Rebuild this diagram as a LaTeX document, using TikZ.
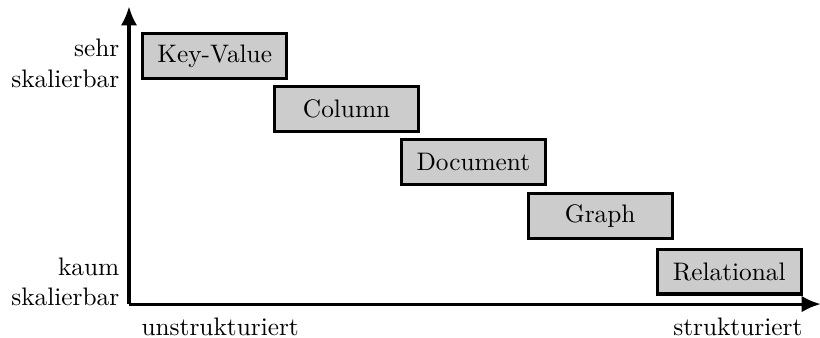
\documentclass[tikz,border=0pt]{standalone}
\usetikzlibrary{arrows.meta}

\tikzset{
	dbbox/.style={rectangle,draw,very thick,fill=black!20,minimum width=2cm,minimum height=0.62cm,inner sep=2pt},
	axis/.style={very thick,-{Latex[length=7.5pt,width=6.5pt]}}
}

\newcommand{\dbtype}[3]
{
	\node[dbbox] at (#2) (#1) {#3}
}

\begin{document}
\begin{tikzpicture}
	\useasboundingbox (-1.79,-0.46) rectangle (9.59,4.22);
	
	%%% Achsen
	\coordinate (O) at (0,0);
	\coordinate (ytop) at (0,4.13);
	\coordinate (xend) at (9.6,0);
	\draw[axis] (O) -- (ytop);
	\draw[axis] (O) -- (xend);
	
	%%% Datenbanktypen
	\dbtype{keyvalue}{1.19,3.44}{Key-Value};
	\dbtype{column}{3.02,2.71}{Column};
	\dbtype{document}{4.78,1.97}{Document};
	\dbtype{graph}{6.54,1.22}{Graph};
	\dbtype{relational}{8.33,0.45}{Relational};
	
	%%% Beschriftung
	\node[align=right,anchor=east] (sehr) at (-0.01,3.34) {sehr\\skalierbar};
	\node[align=right,anchor=east] (kaum) at (-0.01,0.31) {kaum\\skalierbar};
	\node[anchor=west] (unstr) at (0.05,-0.32) {unstrukturiert};
	\node[anchor=east] (str) at (9.47,-0.32) {strukturiert};
\end{tikzpicture}
\end{document}
